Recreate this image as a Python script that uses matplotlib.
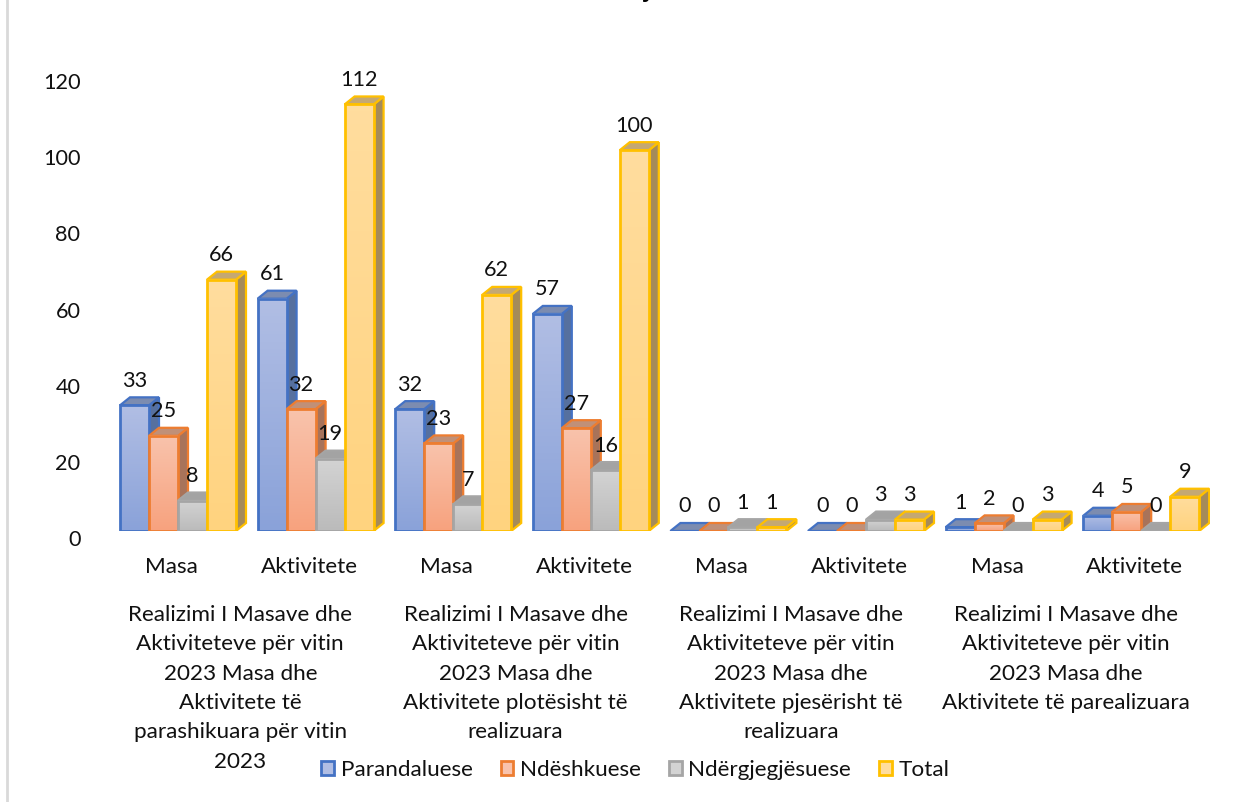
import numpy as np
import matplotlib
matplotlib.use("Agg")
import matplotlib.pyplot as plt
from matplotlib.colors import LinearSegmentedColormap
from matplotlib.patches import Polygon, Rectangle

plt.rcParams["font.family"] = ["Lato", "DejaVu Sans"]

series = ["Parandaluese", "Ndëshkuese", "Ndërgjegjësuese", "Total"]
parandaluese = [33, 61, 32, 57, 0, 0, 1, 4]
ndeshkuese = [25, 32, 23, 27, 0, 0, 2, 5]
ndergjegjesuese = [8, 19, 7, 16, 1, 3, 0, 0]
total = [66, 112, 62, 100, 1, 3, 3, 9]
types = ["Masa", "Aktivitete"] * 4
groups = [
    ["Realizimi I Masave dhe", "Aktiviteteve për vitin", "2023 Masa dhe", "Aktivitete të",
     "parashikuara për vitin", "2023"],
    ["Realizimi I Masave dhe", "Aktiviteteve për vitin", "2023 Masa dhe", "Aktivitete plotësisht të",
     "realizuara"],
    ["Realizimi I Masave dhe", "Aktiviteteve për vitin", "2023 Masa dhe", "Aktivitete pjesërisht të",
     "realizuara"],
    ["Realizimi I Masave dhe", "Aktiviteteve për vitin", "2023 Masa dhe", "Aktivitete të parealizuara"],
]
yticks = [0, 20, 40, 60, 80, 100, 120]

edges = ["#4472C4", "#ED7D31", "#A5A5A5", "#FFC000"]
light = ["#B1BEE4", "#F9C3AC", "#D3D3D3", "#FFDD9E"]
dark = ["#8AA2D9", "#F7A27E", "#BBBBBB", "#FFD37F"]
side = ["#56709F", "#A8735A", "#8F8F8F", "#A58B5A"]
top = ["#7C8CB0", "#C09078", "#A3A3A3", "#C4A873"]

TEXT = "#111111"
FS = 16.2
NUM_FS = 15.6

W, H = 1244, 802
fig = plt.figure(figsize=(W / 100, H / 100), dpi=100)
x0, x1 = 109.2, 1210
y0, y1 = 531, 74
step = (x1 - x0) / 8
ax = fig.add_axes([x0 / W, 1 - y0 / H, (x1 - x0) / W, (y0 - y1) / H])
ax.axis("off")

bar_w = 29 / step
depth_x = 10 / step
unit = (y0 - y1) / 120
depth_y = 8 / unit

rows = [parandaluese, ndeshkuese, ndergjegjesuese, total]
for c in range(8):
    for s, row in enumerate(rows):
        v = row[c]
        left = c + 0.5 + (s - 2) * bar_w
        right = left + bar_w
        z = 3 + c + s * 0.1
        # side and top faces, then the front with its gradient
        if v:
            ax.add_patch(Polygon(
                [(right, 0), (right + depth_x, depth_y), (right + depth_x, v + depth_y), (right, v)],
                facecolor=side[s], edgecolor=edges[s], lw=1.6, zorder=z))
        ax.add_patch(Polygon(
            [(left, v), (left + depth_x, v + depth_y), (right + depth_x, v + depth_y), (right, v)],
            facecolor=top[s], edgecolor=edges[s], lw=1.6, zorder=z))
        if v:
            grad = np.linspace(0, 1, 64)[:, None]
            cmap = LinearSegmentedColormap.from_list("g", [light[s], dark[s]])
            ax.imshow(grad, cmap=cmap, extent=[left, right, 0, v], origin="upper",
                      aspect="auto", zorder=z + 0.01)
            ax.add_patch(Rectangle((left, 0), bar_w, v, facecolor="none", edgecolor=edges[s],
                                   lw=2, zorder=z + 0.02))
        ax.text(left + bar_w / 2, v + 24.5 / unit, str(v), ha="center", va="center",
                fontsize=NUM_FS, color=TEXT, zorder=30)

ax.set_xlim(0, 8)
ax.set_ylim(0, 120)

for t in yticks:
    fig.text(80.5 / W, 1 - (540 - t * unit) / H, str(t), ha="right", va="center", fontsize=NUM_FS, color=TEXT)
for c, name in enumerate(types):
    fig.text((x0 - 6.5 + (c + 0.5) * step) / W, 1 - 567 / H, name, ha="center", va="center",
             fontsize=FS, color=TEXT)
# one text per line, the long first label runs down next to the legend
for g, lines in enumerate(groups):
    for i, line in enumerate(lines):
        fig.text((x0 - 6.5 + (2 * g + 1) * step) / W, 1 - (615 + 29.3 * i) / H, line, ha="center",
                 va="center", fontsize=FS, color=TEXT)

# legend
handles = [Rectangle((0, 0), 1, 1, facecolor=light[i], edgecolor=edges[i], lw=2) for i in range(4)]
fig.legend(handles, series, loc="center", bbox_to_anchor=(635.5 / W, 1 - 770 / H), ncol=4, frameon=False,
           fontsize=FS, handlelength=0.55, handleheight=0.55, handletextpad=0.3, columnspacing=1.26,
           labelcolor=TEXT)

# the title is cut off by the crop, only the tail of its j shows
fig.text(647 / W, 1 + 2 / H, "j", ha="center", va="baseline", fontsize=19, fontweight="bold", color="black")

# slide border on the left
fig.add_artist(plt.Line2D([7 / W, 7 / W], [0, 1], color="#D9D9D9", lw=2))

fig.savefig("out.png", dpi=100)
